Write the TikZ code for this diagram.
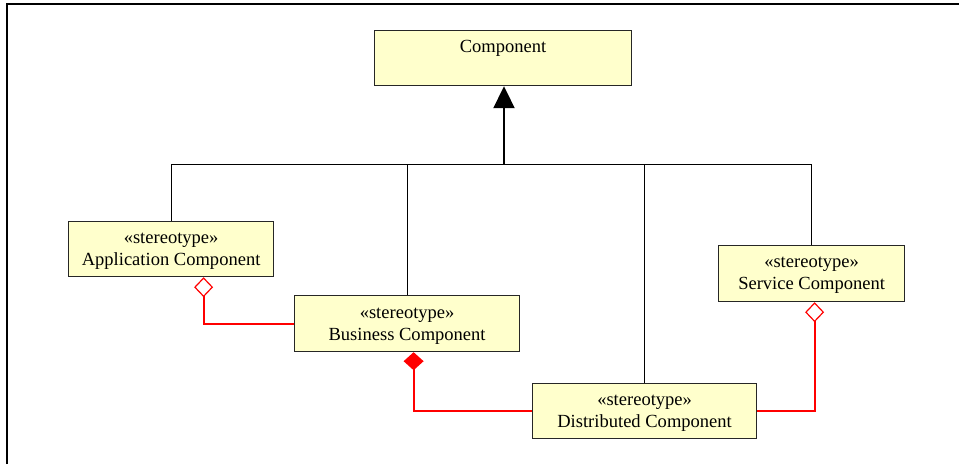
\documentclass[tikz,border=0pt]{standalone}
\usepackage{fontspec}
\setmainfont{Liberation Serif}
\usetikzlibrary{arrows.meta,calc}
\definecolor{boxfill}{RGB}{255,255,204}
\definecolor{linkred}{RGB}{255,0,0}
\tikzset{
  classbox/.style={draw=black!85, line width=0.9pt, fill=boxfill, inner sep=0pt,
    anchor=north west},
  classtext/.style={align=center, inner sep=0pt, font=\fontsize{13.9}{16.5}\selectfont},
  gen/.style={draw=black, line width=0.75pt},
  aggr/.style={color=linkred, line width=1.4pt,
    -{Diamond[open, width=14.25pt, length=15pt, line width=0.9pt]}},
  compo/.style={color=linkred, line width=1.4pt,
    -{Diamond[width=15pt, length=13.5pt]}},
}
\begin{document}
\begin{tikzpicture}[x=0.75pt, y=-0.75pt]
  \useasboundingbox (0,0) rectangle (959,464);
  % frame
  \draw[line width=1.5pt] (7,464) -- (7,4) -- (959,4);

  % classes
  \node[classbox, minimum width=192.75pt, minimum height=41.25pt] (comp) at (374,30) {};
  \node[classtext] (comptxt) at ($(comp.north)+(0,18.5)$) {Component};
  \node[classbox, minimum width=153.75pt, minimum height=41.25pt] (app) at (68,221) {};
  \node[classtext] (apptxt) at ($(app.center)+(0,2.5)$) {«stereotype»\\Application Component};
  \node[classbox, minimum width=168.75pt, minimum height=42pt] (bus) at (294,295) {};
  \node[classtext] (bustxt) at ($(bus.center)+(0,2.5)$) {«stereotype»\\Business Component};
  \node[classbox, minimum width=168pt, minimum height=41.25pt] (dist) at (532,383) {};
  \node[classtext] (disttxt) at ($(dist.center)+(0,2.5)$) {«stereotype»\\Distributed Component};
  \node[classbox, minimum width=139.5pt, minimum height=42pt] (serv) at (718,245) {};
  \node[classtext] (servtxt) at ($(serv.center)+(0,2)$) {«stereotype»\\Service Component};

  % generalization tree
  \coordinate (hub) at (504,164);
  \draw[line width=1.5pt, -{Triangle[width=15.75pt, length=16.5pt]}]
    (hub) -- (hub |- comp.south);
  \draw[gen] (app.north) -- (app.north |- hub) -- (serv.north |- hub) -- (serv.north);
  \draw[gen] (bus.north) -- (bus.north |- hub);
  \draw[gen] (dist.north) -- (dist.north |- hub);

  % aggregation ends under the whole classes
  \coordinate (append) at ($(app.south)+(32.5,0)$);
  \coordinate (busend) at ($(bus.south)+(6.5,0)$);
  \coordinate (servend) at ($(serv.south)+(3,0)$);

  % aggregations and composition
  \draw[aggr] (bus.west) -- (bus.west -| append) -- (append);
  \draw[compo] (dist.west) -- (dist.west -| busend) -- (busend);
  \draw[aggr] (dist.east) -- (dist.east -| servend) -- (servend);
\end{tikzpicture}
\end{document}
